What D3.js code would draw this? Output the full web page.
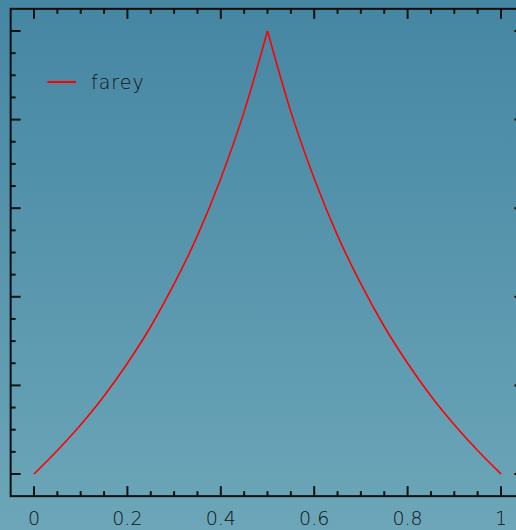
<!DOCTYPE html>
<html><head><meta charset="utf-8">
<script src="https://cdn.jsdelivr.net/npm/d3@7"></script>
<style>html,body{margin:0;padding:0;overflow:hidden;background:#5797b0}</style>
</head><body>
<svg id="c" width="516" height="530"></svg>
<script>
const xs = [0,0.05,0.1,0.15,0.2,0.25,0.3,0.35,0.4,0.45,0.5,0.55,0.6,0.65,0.7,0.75,0.8,0.85,0.9,0.95,1];
const ys = [0,0.053,0.111,0.176,0.25,0.333,0.429,0.538,0.667,0.818,1,0.818,0.667,0.538,0.429,0.333,0.25,0.176,0.111,0.053,0];
const seriesName = "farey";
const xTickLabels = ["0","0.2","0.4","0.6","0.8","1"];
const xMajor = [0,0.2,0.4,0.6,0.8,1];
const yMajor = [0,0.2,0.4,0.6,0.8,1];

const FONT = "'DejaVu Sans', sans-serif";
const svg = d3.select("#c");
const defs = svg.append("defs");
const g = defs.append("linearGradient").attr("id","bg").attr("x1",0).attr("y1",0).attr("x2",0).attr("y2",1);
g.append("stop").attr("offset",0).attr("stop-color","#4586a3");
g.append("stop").attr("offset",1).attr("stop-color","#6ca6b8");
svg.append("rect").attr("width",516).attr("height",530).attr("fill","url(#bg)");

const x = d3.scaleLinear().domain([-0.05,1.05]).range([10.65,524.35]);
const y = d3.scaleLinear().domain([-0.05,1.05]).range([496.15,8.85]);
const minor = d3.range(-0.05,1.0501,0.05).map(v=>+v.toFixed(2)).filter(v=>v>-0.05&&v<1.05);
const isMajor = v => Math.abs(v*5-Math.round(v*5))<1e-6;

const ax = svg.append("g").attr("stroke","#111").attr("stroke-width",2);
ax.append("rect").attr("x",x(-0.05)).attr("y",y(1.05)).attr("width",x(1.05)-x(-0.05)).attr("height",y(-0.05)-y(1.05)).attr("fill","none");
minor.forEach(v=>{
  const L = isMajor(v)?10:5;
  ax.append("line").attr("x1",x(v)).attr("x2",x(v)).attr("y1",y(-0.05)).attr("y2",y(-0.05)-L);
  ax.append("line").attr("x1",x(v)).attr("x2",x(v)).attr("y1",y(1.05)).attr("y2",y(1.05)+L);
  ax.append("line").attr("y1",y(v)).attr("y2",y(v)).attr("x1",x(-0.05)).attr("x2",x(-0.05)+L);
  ax.append("line").attr("y1",y(v)).attr("y2",y(v)).attr("x1",x(1.05)).attr("x2",x(1.05)-L);
});
svg.append("g").selectAll("text").data(xMajor).join("text")
  .attr("x",d=>x(d)).attr("y",525).attr("text-anchor","middle")
  .attr("font-family",FONT).attr("font-weight",200).attr("font-size",19)
  .attr("fill","#111").text((d,i)=>xTickLabels[i]);

const pts = xs.map((v,i)=>[v,ys[i]]);
const line = d3.line().x(d=>x(d[0])).y(d=>y(d[1])).curve(d3.curveMonotoneX);
const peak = ys.indexOf(d3.max(ys));
[pts.slice(0,peak+1), pts.slice(peak)].forEach(p=>{
  svg.append("path").attr("d",line(p)).attr("fill","none").attr("stroke","#ff0000").attr("stroke-width",1.6);
});
svg.append("line").attr("x1",47.5).attr("x2",76).attr("y1",82).attr("y2",82).attr("stroke","#ff0000").attr("stroke-width",2);
svg.append("text").attr("x",91).attr("y",89).attr("font-family",FONT).attr("font-weight",200)
  .attr("font-size",19).attr("fill","#111").attr("letter-spacing",1).text(seriesName);
</script>
</body></html>
